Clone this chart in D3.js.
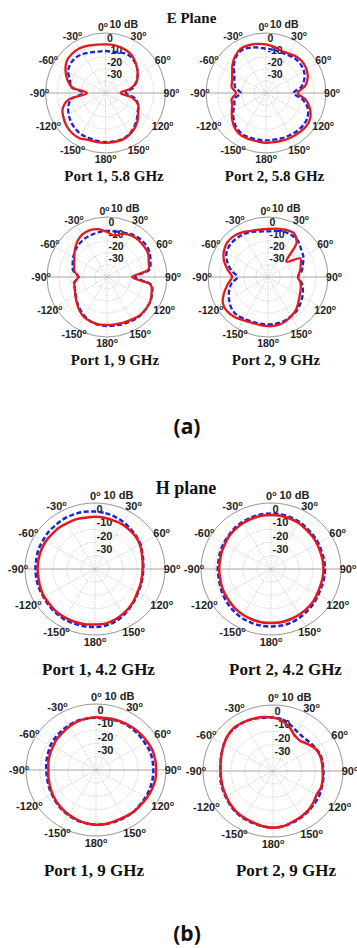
<!DOCTYPE html>
<html><head><meta charset="utf-8">
<script src="https://cdn.jsdelivr.net/npm/d3@7"></script>
<style>body{margin:0;background:#fff}svg{display:block}</style>
</head><body>
<svg id="c" width="357" height="948"></svg>
<script>
// ---- data ----
const angles = [0,10,20,30,40,50,60,70,80,90,100,110,120,130,140,150,160,170,180,190,200,210,220,230,240,250,260,270,280,290,300,310,320,330,340,350];
const angleTicks = [0,30,60,90,120,150,180,210,240,270,300,330];
const angleTickLabels = ["0","30","60","90","120","150","180","-150","-120","-90","-60","-30"];
const radialTicks = [10,0,-10,-20,-30];
const radialTickLabels = ["10 dB","0","-10","-20","-30"];
const radialDomain = [-40,10];
const sectionTitles = ["E Plane","H plane"];
const subLabels = ["(a)","(b)"];
const captions = ["Port 1, 5.8 GHz","Port 2, 5.8 GHz","Port 1, 9 GHz","Port 2, 9 GHz","Port 1, 4.2 GHz","Port 2, 4.2 GHz","Port 1, 9 GHz","Port 2, 9 GHz"];

const e1Red  = [0.5,0.5,0,-1,-3,-6,-9,-12.5,-19,-27.5,-17.5,-11,-8.5,-5,-2,0,1.5,1.5,1.5,1.5,1.5,3.5,3.5,2.5,0.5,-2,-9,-24.5,-11.5,-6,-1.5,2,3,3,2,1];
const e1Blue = [-5,-5,-4,-3,-4,-6,-9,-12.5,-17,-23,-15,-11,-9,-6,-3,-0.5,1,1,1,0.5,0,0,-1,-2.5,-4.5,-7,-11,-21.5,-11,-8.5,-4,-2,-1.5,-2.5,-4,-5];
const e2Red  = [0.5,-1,-2.5,-2,-0.5,0,-1,-3,-7,-13.5,-6,-1,2.5,3.5,3,2.5,2,1.5,1.5,1,1,1,-0.5,-3.5,-7,-10,-11,-15,-11,-10,-7.5,-3.5,0,2.5,2.5,1.5];
const e2Blue = [-3,-3.5,-4,-3.5,-2.5,-2.5,-3.5,-6,-10,-17,-9,-3,0,1,1,0.5,0,-0.5,-0.5,-0.5,-0.5,-0.5,-2,-5,-8.5,-12,-13.5,-19,-14,-12,-9.5,-5,-1,1,0,-1.5];
const e3Red  = [-2.5,-5,-1.5,0,0.5,0,-0.5,-3,-5,-19,-3,-0.5,1.5,2,2,1,0.5,0,0,0,-0.5,-1.5,-4,-7,-9.5,-11.5,-12.5,-16,-12.5,-11,-8.5,-5,-1.5,1,1.5,0.5];
const e3Blue = [-1.5,-1.5,-0.5,1,2,2,1,-1.5,-4,-16.5,-2.5,0,1.5,2,2.5,2,1.5,1,1,0.5,-0.5,-2.5,-5,-7.5,-10,-11.5,-12,-16.5,-11.5,-9.5,-7.5,-5.5,-4,-3,-2.5,-2];
const e4Red  = [0,1,2,2.5,-3,-20,-9,-11,-13,-15,-12.5,-11,-9.5,-7,-4,-2,0,1,1,0.5,0.5,1.5,3.5,4.5,3.5,-1,-6,-10,-6,-1,2.5,4.5,4.5,3,1,0];
const e4Blue = [-2,-1,0,0,-1,-4,-6,-9,-11.5,-15,-11.5,-9,-7,-5,-3,-2,-1,-0.5,-0.5,-0.5,-0.5,0,1,0,-2.5,-5.5,-9,-14.5,-9,-4,0,1.5,1.5,1,0,-1.5];
const h1Red  = [-0.5,-0.5,-1,-1,-1.5,-2,-3,-4.5,-5.5,-6,-6,-5.5,-5,-3.5,-2,-0.5,1,2,2,2.5,2.5,2.5,2.5,2,2,1.5,1,1,1,1,1,0.5,0.5,0,0,-0.5];
const h1Blue = [3.5,3,2,1,-0.5,-1.5,-2.5,-4,-5,-5.5,-5.5,-5,-4.5,-3,-1.5,0.5,2.5,3.5,4,4,4,4,3.5,3,2.5,2.5,2.5,2.5,2.5,3,3,3.5,3.5,4,4,4];
const h2Red  = [1,1,0.5,0,-1,-1.5,-2,-2.5,-2.5,-2.5,-2.5,-2.5,-2,-1,-0.5,0,0.5,1,1,1,0.5,0,-0.5,-1.5,-2,-2.5,-3,-3,-3,-2.5,-2,-1,-0.5,0,0.5,1];
const h2Blue = [2,2,1.5,1,0,-0.5,-1,-1.5,-1.5,-1.5,-1.5,-1.5,-1,0,1,2,3,3.5,3.5,3.5,3,2.5,1.5,0.5,-0.5,-1.5,-2,-2,-2,-1.5,-1,-0.5,0.5,1,1.5,2];
const h3Red  = [0,0,0.5,1,1.5,2,2.5,3,3,3,3,2.5,2,1.5,1.5,1,1,1.5,1.5,1,0,-1,-2,-3,-4,-5,-5.5,-6,-5.5,-5,-4.5,-3.5,-3,-2,-1,-0.5];
const h3Blue = [-0.5,-0.5,0,0.5,0.5,0.5,0.5,1,1,1,1,1,1,1,1.5,1.5,1.5,1.5,1.5,1,0.5,-0.5,-1.5,-2.5,-3.5,-4,-4.5,-4.5,-4,-3.5,-2.5,-2,-1.5,-1,-0.5,-0.5];
const h4Red  = [0.5,-1.5,-5,-9,-10,-8,-5.5,-4.5,-4.5,-4.5,-4,-3.5,-4,-2.5,-1,0,1,2.5,3,2.5,1.5,1,0.5,-0.5,-1.5,-2,-2.5,-2.5,-2,-1,0.5,2,3,2.5,2,1.5];
const h4Blue = [0.5,-0.5,-3,-5.5,-6.5,-6,-5,-4,-4,-4,-3.5,-3,-2,-1.5,-0.5,0.5,1.5,2.5,3,2.5,2,1.5,1,0,-1,-1.5,-2,-2.5,-2,-1,0.5,2,2.5,2.5,2,1];

const seriesRed  = [e1Red,e2Red,e3Red,e4Red,h1Red,h2Red,h3Red,h4Red];
const seriesBlue = [e1Blue,e2Blue,e3Blue,e4Blue,h1Blue,h2Blue,h3Blue,h4Blue];

// ---- layout ----
const E = {rx:60, ry:60, lab:10.5, cap:15, lw:2.3, dbx:4, dby:5.5, zeroX:2.5};
const H = {rx:70, ry:66, lab:11, cap:17, lw:2.5, dbx:8.5, dby:4.5, zeroX:5.5};
const layout = [
  Object.assign({cx:105.5, cy:93,  capX:114,  capY:181}, E),
  Object.assign({cx:266,   cy:93,  capX:274.5,capY:181}, E),
  Object.assign({cx:107,   cy:277, capX:115,  capY:365}, E),
  Object.assign({cx:268,   cy:277, capX:276,  capY:365}, E),
  Object.assign({cx:95,    cy:569, capX:98.5, capY:675}, H),
  Object.assign({cx:271,   cy:569, capX:285.5,capY:675}, H),
  Object.assign({cx:96,    cy:770, capX:94,   capY:876}, H),
  Object.assign({cx:273,   cy:771, capX:286,  capY:876}, H)
];

const svg = d3.select("#c");
const RED = "#e3191c", BLUE = "#1c22d8";

function drawPanel(p, red, blue, caption) {
  const g = svg.append("g");
  const sx = d3.scaleLinear().domain(radialDomain).range([0, p.rx]).clamp(true);
  const sy = d3.scaleLinear().domain(radialDomain).range([0, p.ry]).clamp(true);
  const rad = a => a * Math.PI / 180;
  const pt = (a, v) => [p.cx + sx(v) * Math.sin(rad(a)), p.cy - sy(v) * Math.cos(rad(a))];

  radialTicks.forEach(v => {
    const outer = v === radialDomain[1];
    g.append("ellipse").attr("cx", p.cx).attr("cy", p.cy)
      .attr("rx", sx(v)).attr("ry", sy(v)).attr("fill", "none")
      .attr("stroke", outer ? "#8a8a8a" : "#a8a8a8")
      .attr("stroke-width", outer ? 0.9 : 0.7)
      .attr("stroke-dasharray", outer ? null : "1,1.6");
  });
  angleTicks.filter(a => a < 180).forEach(a => {
    const [x1, y1] = pt(a, radialDomain[1]);
    const [x2, y2] = pt(a + 180, radialDomain[1]);
    g.append("line").attr("x1", x1).attr("y1", y1).attr("x2", x2).attr("y2", y2)
      .attr("stroke", a === 90 ? "#909090" : "#a8a8a8")
      .attr("stroke-width", a === 90 ? 0.8 : 0.7)
      .attr("stroke-dasharray", a === 90 ? null : "1,1.6");
  });
  angleTicks.forEach((a, i) => {
    let x = p.cx + 1.1 * p.rx * Math.sin(rad(a));
    const y = p.cy - 1.1 * p.ry * Math.cos(rad(a));
    let anchor = "middle";
    if (a === 0) { x = p.cx + p.zeroX; anchor = "end"; }
    const t = g.append("text").attr("x", x).attr("y", y).attr("dy", "0.36em")
      .attr("text-anchor", anchor)
      .attr("font-family", "'Liberation Sans', Arial, sans-serif")
      .attr("font-weight", "bold")
      .attr("font-size", p.lab).attr("fill", "#222");
    t.append("tspan").text(angleTickLabels[i]);
    t.append("tspan").attr("font-size", p.lab * 0.65).attr("dy", "-0.55em").text("o");
  });
  radialTicks.forEach((v, i) => {
    g.append("text").attr("x", p.cx + (i === 0 ? p.dbx : 1.5))
      .attr("y", p.cy - sy(v) - (i === 0 ? p.dby : 3))
      .attr("font-family", "'Liberation Sans', Arial, sans-serif")
      .attr("font-weight", "bold")
      .attr("font-size", p.lab).attr("fill", "#222")
      .text(radialTickLabels[i]);
  });
  const line = d3.line().curve(d3.curveCatmullRomClosed.alpha(0.5));
  g.append("path").attr("d", line(angles.map((a, i) => pt(a, blue[i]))))
    .attr("fill", "none").attr("stroke", BLUE).attr("stroke-width", p.lw)
    .attr("stroke-dasharray", "5,2.5");
  g.append("path").attr("d", line(angles.map((a, i) => pt(a, red[i]))))
    .attr("fill", "none").attr("stroke", RED).attr("stroke-width", p.lw);
  g.append("text").attr("x", p.capX).attr("y", p.capY).attr("text-anchor", "middle")
    .attr("font-family", "'Liberation Serif', 'Times New Roman', serif")
    .attr("font-weight", "bold").attr("font-size", p.cap).attr("fill", "#111")
    .text(caption);
}

layout.forEach((p, i) => drawPanel(p, seriesRed[i], seriesBlue[i], captions[i]));

svg.append("text").attr("x", 191.5).attr("y", 23).attr("text-anchor", "middle")
  .attr("font-family", "'Liberation Serif', serif").attr("font-weight", "bold")
  .attr("font-size", 15).attr("fill", "#111").text(sectionTitles[0]);
svg.append("text").attr("x", 186).attr("y", 494).attr("text-anchor", "middle")
  .attr("font-family", "'Liberation Serif', serif").attr("font-weight", "bold")
  .attr("font-size", 18).attr("fill", "#111").text(sectionTitles[1]);
svg.append("text").attr("x", 187).attr("y", 434).attr("text-anchor", "middle")
  .attr("font-family", "'Open Sans', sans-serif").attr("font-weight", "bold")
  .attr("font-size", 21).attr("fill", "#111").text(subLabels[0]);
svg.append("text").attr("x", 187).attr("y", 941).attr("text-anchor", "middle")
  .attr("font-family", "'Open Sans', sans-serif").attr("font-weight", "bold")
  .attr("font-size", 21).attr("fill", "#111").text(subLabels[1]);
</script>
</body></html>
